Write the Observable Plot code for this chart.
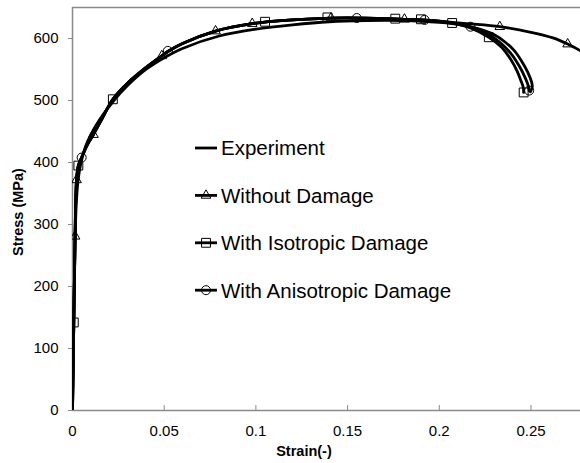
<!DOCTYPE html>
<html><head><meta charset="utf-8">
<script src="https://cdn.jsdelivr.net/npm/d3@7"></script>
<script src="https://cdn.jsdelivr.net/npm/@observablehq/plot@0.6"></script>
<style>body{margin:0;background:#fff}#chart{width:580px;height:463px}</style>
</head><body><div id="chart"></div>
<script>
// ---- data ----
const xTicks = [0, 0.05, 0.1, 0.15, 0.2, 0.25];
const yTicks = [0, 100, 200, 300, 400, 500, 600];
const seriesNames = ["Experiment", "Without Damage", "With Isotropic Damage", "With Anisotropic Damage"];

const expStrain = [0, 0.0004, 0.0009, 0.0014, 0.002, 0.003, 0.0045, 0.007, 0.010, 0.015, 0.022, 0.030, 0.040, 0.050, 0.060, 0.080, 0.100, 0.120, 0.140, 0.160, 0.180, 0.200, 0.212, 0.222, 0.230, 0.236, 0.241, 0.245, 0.248, 0.2503, 0.2507, 0.2497];
const expStress = [0, 80, 180, 270, 330, 370, 398, 425, 445, 470, 498, 524, 550, 569, 584, 604, 615, 622, 627, 629, 629, 626, 622, 615, 606, 594, 580, 563, 547, 530, 522, 514];

const noDmgStrain = [0, 0.0007, 0.0014, 0.0022, 0.0032, 0.005, 0.008, 0.0114, 0.016, 0.022, 0.030, 0.040, 0.0487, 0.052, 0.060, 0.078, 0.098, 0.120, 0.141, 0.160, 0.181, 0.200, 0.215, 0.233, 0.250, 0.262, 0.270, 0.277];
const noDmgStress = [0, 142, 281, 372, 395, 408, 428, 445, 470, 502, 528, 553, 572, 579, 592, 612, 624, 630, 633, 633, 631, 628, 624, 619, 610, 601, 591, 580];

const isoStrain = [0, 0.0007, 0.0014, 0.0022, 0.0032, 0.005, 0.008, 0.0114, 0.016, 0.022, 0.030, 0.040, 0.0487, 0.052, 0.060, 0.078, 0.098, 0.120, 0.141, 0.160, 0.181, 0.190, 0.207, 0.217, 0.227, 0.234, 0.239, 0.2425, 0.2445, 0.2458, 0.246];
const isoStress = [0, 142, 281, 372, 395, 408, 428, 445, 470, 502, 528, 553, 572, 579, 592, 612, 624, 630, 633, 633, 631, 630, 625, 617, 602, 586, 566, 547, 532, 521, 513];

const anisoStrain = [0, 0.0007, 0.0014, 0.0022, 0.0032, 0.005, 0.008, 0.0114, 0.016, 0.022, 0.030, 0.040, 0.0487, 0.052, 0.060, 0.078, 0.098, 0.120, 0.141, 0.160, 0.181, 0.192, 0.205, 0.217, 0.226, 0.233, 0.239, 0.2435, 0.2468, 0.2485, 0.249];
const anisoStress = [0, 142, 281, 372, 395, 408, 428, 445, 470, 502, 528, 553, 572, 579, 592, 612, 624, 630, 633, 633, 631, 630, 626, 619, 608, 594, 576, 556, 537, 524, 516];

// marker positions
const triStrain = [0.0014, 0.0022, 0.0114, 0.0487, 0.078, 0.098, 0.141, 0.181, 0.233, 0.270];
const triStress = [281, 372, 445, 572, 612, 624, 633, 631, 619, 591];
const sqStrain = [0.0007, 0.0032, 0.022, 0.105, 0.139, 0.176, 0.190, 0.207, 0.227, 0.246];
const sqStress = [142, 395, 502, 627, 634, 632, 631, 625, 602, 513];
const circStrain = [0.005, 0.052, 0.155, 0.192, 0.217, 0.249];
const circStress = [408, 580, 633, 630, 619, 516];

// ---- build tables ----
const toRows = (xs, ys, s) => xs.map((x, i) => ({x, y: ys[i], s}));
const lines = [
  ...toRows(expStrain, expStress, seriesNames[0]),
  ...toRows(noDmgStrain, noDmgStress, seriesNames[1]),
  ...toRows(isoStrain, isoStress, seriesNames[2]),
  ...toRows(anisoStrain, anisoStress, seriesNames[3])
];
const tri = toRows(triStrain, triStress, seriesNames[1]);
const sq = toRows(sqStrain, sqStress, seriesNames[2]);
const circ = toRows(circStrain, circStress, seriesNames[3]);

const axisGray = "#8a8a8a";
const font = "'Liberation Sans', Arial, sans-serif";

const chart = Plot.plot({
  width: 580, height: 463,
  marginLeft: 72, marginRight: 0, marginTop: 7, marginBottom: 53,
  style: {fontFamily: font, fontSize: "15px", color: "#000", background: "#fff", overflow: "visible"},
  x: {domain: [0, 0.277]},
  y: {domain: [0, 650]},
  marks: [
    Plot.ruleX([0], {stroke: axisGray, strokeWidth: 1.5}),
    Plot.ruleY([0, 650], {stroke: axisGray, strokeWidth: 1.5}),
    Plot.axisX({ticks: xTicks, tickSize: 5, dy: -5, stroke: axisGray, tickFormat: () => "", label: null}),
    Plot.axisX({ticks: xTicks, tickSize: 0, tickPadding: 15, tickFormat: d => d === 0 ? "0" : String(d), label: null, fill: "#000"}),
    Plot.axisY({ticks: yTicks, tickSize: 4, tickPadding: 10, stroke: axisGray, label: null, fill: "#000"}),
    Plot.line(lines, {x: "x", y: "y", z: "s", stroke: "#000", strokeWidth: 2.8, curve: "catmull-rom", clip: true}),
    Plot.dot(tri, {x: "x", y: "y", symbol: "triangle", r: 3.6, stroke: "#000", strokeWidth: 1, fill: "none", clip: true}),
    Plot.dot(sq, {x: "x", y: "y", symbol: "square", r: 5, stroke: "#000", strokeWidth: 1, fill: "none", clip: true}),
    Plot.dot(circ, {x: "x", y: "y", symbol: "circle", r: 4.5, stroke: "#000", strokeWidth: 1, fill: "none", clip: true})
  ]
});
document.getElementById("chart").appendChild(chart);

// ---- axis titles & legend ----
const svg = d3.select(chart);
svg.append("text").attr("x", 304).attr("y", 456).attr("text-anchor", "middle")
  .attr("font-family", font).attr("font-weight", "bold").attr("font-size", 14.5).attr("fill", "#000").text("Strain(-)");
svg.append("text").attr("transform", "translate(23,212) rotate(-90)").attr("text-anchor", "middle")
  .attr("font-family", font).attr("font-weight", "bold").attr("font-size", 14.5).attr("fill", "#000").text("Stress (MPa)");

const legendSymbols = [null, d3.symbolTriangle, d3.symbolSquare, d3.symbolCircle];
const legendSizes = [0, 3.6 * 3.6 * Math.PI, 25 * Math.PI, 4.5 * 4.5 * Math.PI];
const lg = svg.append("g");
seriesNames.forEach((name, i) => {
  const cy = 148 + i * 47.4;
  lg.append("line").attr("x1", 195).attr("x2", 217).attr("y1", cy).attr("y2", cy)
    .attr("stroke", "#000").attr("stroke-width", 2.8);
  if (legendSymbols[i]) {
    lg.append("path").attr("transform", `translate(206,${cy})`)
      .attr("d", d3.symbol(legendSymbols[i], legendSizes[i])())
      .attr("fill", "none").attr("stroke", "#000").attr("stroke-width", 1);
  }
  lg.append("text").attr("x", 221).attr("y", cy).attr("dy", "0.36em").attr("text-anchor", "start")
    .attr("font-family", font).attr("font-size", 20.5).attr("fill", "#000").text(name);
});
</script>
</body></html>
